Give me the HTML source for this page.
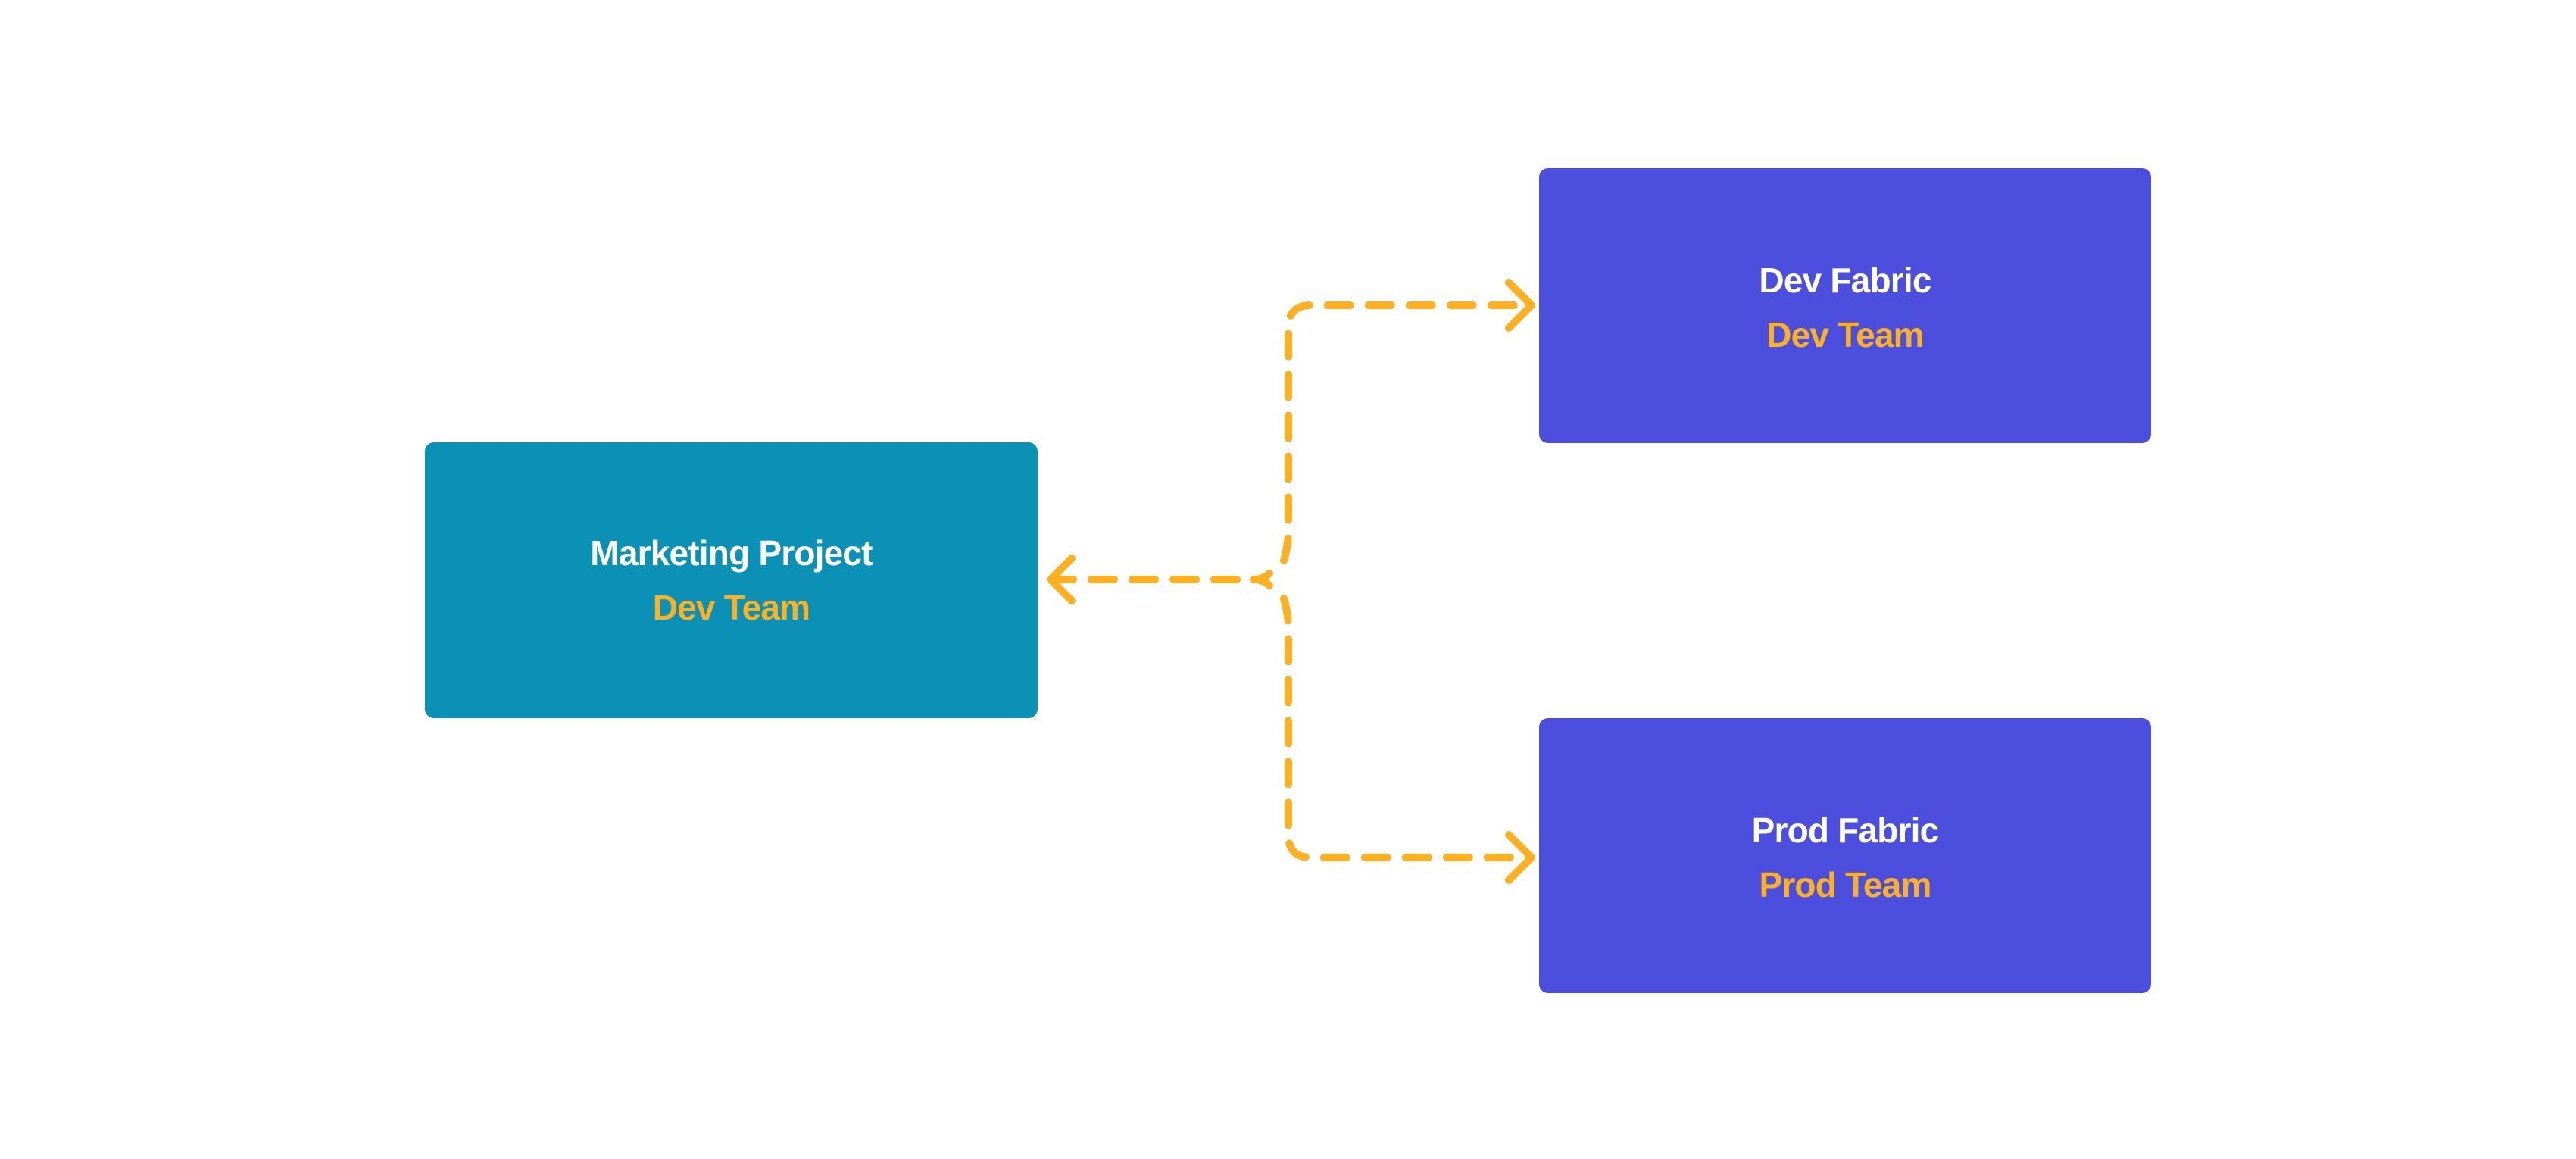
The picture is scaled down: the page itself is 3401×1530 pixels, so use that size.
<!DOCTYPE html>
<html><head><meta charset="utf-8"><style>
html,body{margin:0;padding:0;background:#fff;}
body{width:3401px;height:1530px;position:relative;overflow:hidden;font-family:"Liberation Sans",sans-serif;}
.box{position:absolute;border-radius:12px;}
.t{position:absolute;width:100%;text-align:center;font-weight:bold;font-size:46px;line-height:1;letter-spacing:-0.8px;}
.w{color:#fff}.o{color:#fdb022}
</style></head><body>
<div class="box" style="left:561px;top:584px;width:809px;height:364px;background:#0a91b5;">
<div class="t w" style="top:123px;">Marketing Project</div>
<div class="t o" style="top:195px;">Dev Team</div>
</div>
<div class="box" style="left:2032px;top:222px;width:808px;height:363px;background:#4c4fdd;">
<div class="t w" style="top:125px;">Dev Fabric</div>
<div class="t o" style="top:197px;">Dev Team</div>
</div>
<div class="box" style="left:2032px;top:948px;width:808px;height:363px;background:#4c4fdd;">
<div class="t w" style="top:125px;">Prod Fabric</div>
<div class="t o" style="top:197px;">Prod Team</div>
</div>
<svg width="3401" height="1530" style="position:absolute;left:0;top:0" fill="none" stroke="#fdb022" stroke-width="10" stroke-linecap="round" stroke-linejoin="round">
<path d="M1387 765 L1660 765" stroke-dasharray="30 24"/>
<path d="M1676 757 Q1668 765 1655 765 Q1668 765 1676 773"/>
<path d="M1695 740 Q1701 720 1701 700 L1701 433 Q1701 403 1731 403 L2020 403" stroke-dasharray="30 24" stroke-dashoffset="0"/>
<path d="M1695 790 Q1701 810 1701 830 L1701 1102 Q1701 1132 1731 1132 L2020 1132" stroke-dasharray="30 24"/>
<path d="M1992 373 L2022 403 L1992 433"/>
<path d="M1992 1102 L2022 1132 L1992 1162"/>
<path d="M1415 737 L1387 765 L1415 793"/>
</svg>
</body></html>
